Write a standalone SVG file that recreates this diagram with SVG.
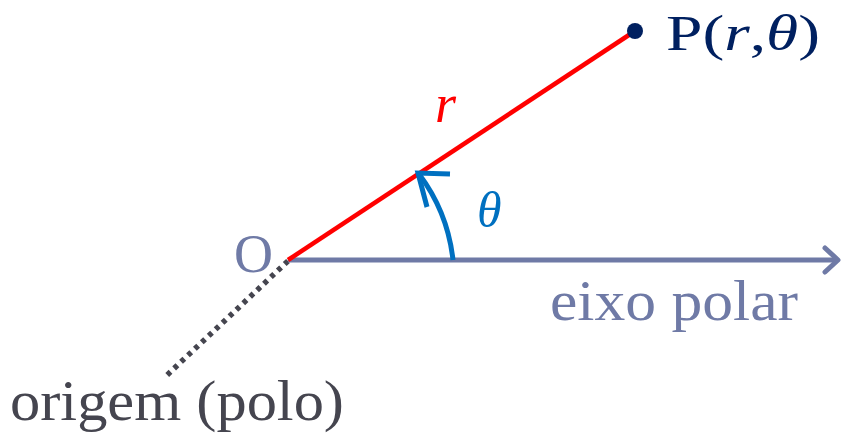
<svg xmlns="http://www.w3.org/2000/svg" width="845" height="434" viewBox="0 0 845 434">
<style>
.t{font-family:"Liberation Serif",serif;}
</style>
<rect width="845" height="434" fill="#fff"/>
<g id="connectors" fill="none">
<line x1="288" y1="261" x2="165" y2="377" stroke="#45454f" stroke-width="5.5" style="stroke-dasharray:4.5 5"/>
<line x1="288" y1="260" x2="837" y2="260" stroke="#6f7aa6" stroke-width="5"/>
<polyline points="825,248 838,260 825,272" stroke="#6f7aa6" stroke-width="5" stroke-linejoin="round" stroke-linecap="round"/>
<line x1="288" y1="260" x2="635" y2="31" stroke="#ff0000" stroke-width="4.5"/>
<path d="M453,260 A175,175 0 0 0 419,174" stroke="#0070c0" stroke-width="5"/>
<polyline points="427,207 418,173 450,174" stroke="#0070c0" stroke-width="5" stroke-linejoin="miter"/>
</g>
<g id="P">
<circle cx="635" cy="31" r="8" fill="#002060"/>
<text class="t" x="666" y="50" font-size="50" fill="#002060" textLength="154" lengthAdjust="spacingAndGlyphs">P(<tspan font-style="italic">r</tspan>,<tspan font-style="italic">θ</tspan>)</text>
</g>
<g id="r-label"><text class="t" x="435" y="122" font-size="54" font-style="italic" fill="#ff0000">r</text></g>
<g id="theta-label"><text class="t" x="477" y="227" font-size="50" font-style="italic" fill="#0070c0">θ</text></g>
<g id="O"><text class="t" x="234" y="272" font-size="54" fill="#6f7aa6">O</text></g>
<g id="eixo"><text class="t" x="550" y="320" font-size="56" fill="#6f7aa6" textLength="248" lengthAdjust="spacingAndGlyphs">eixo polar</text></g>
<g id="origem"><text class="t" x="10" y="420" font-size="56" fill="#45454f" textLength="334" lengthAdjust="spacingAndGlyphs">origem (polo)</text></g>
</svg>
